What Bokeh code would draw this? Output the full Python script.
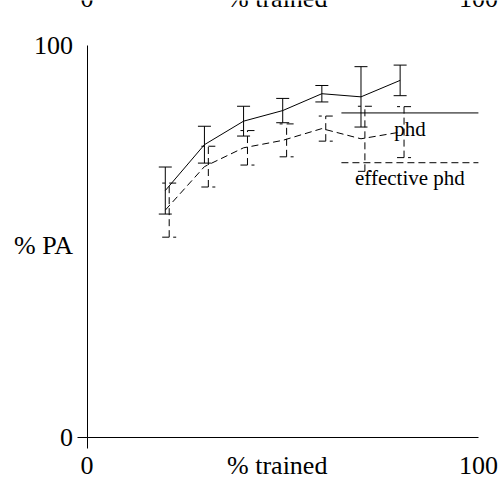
from bokeh.plotting import figure
from bokeh.models import ColumnDataSource, Whisker, TeeHead, FixedTicker, LinearAxis, Range1d
from bokeh.core.properties import value
from bokeh.embed import file_html
from bokeh.resources import INLINE

# Percentage of training data used vs. % PA, with standard-error bars
trained = [20, 30, 40, 50, 60, 70, 80]
phd = [63.0, 74.7, 80.7, 83.4, 87.7, 86.9, 91.1]
phd_err = [6.0, 4.7, 3.8, 3.1, 2.1, 7.7, 3.9]
eff_phd = [58.0, 69.1, 73.9, 75.8, 78.8, 76.2, 77.9]
eff_phd_err = [6.9, 5.2, 4.4, 4.2, 3.2, 8.3, 6.5]

x_ticks = [0, 48.6, 100]
x_tick_labels = ["0", "% trained", "100"]
y_ticks = [0, 49, 100]
y_tick_labels = ["0", "% PA", "100"]

series_names = ["phd", "effective phd"]

FONT = "Liberation Serif"
DASH = "7 4"

# the frame fills the page; the axes are pinned at the origin and bounded to 0..100
p = figure(width=501, height=478, output_backend="svg", toolbar_location=None,
           x_range=Range1d(-22.1, 105.9), y_range=Range1d(-10.46, 111.48),
           min_border=0)
p.outline_line_color = None
p.xgrid.visible = False
p.ygrid.visible = False
p.background_fill_color = "white"
p.border_fill_color = "white"


def style_axis(ax, ticks, labels, tick_len, standoff, line=True):
    ax.ticker = FixedTicker(ticks=ticks, minor_ticks=[0] if tick_len else [])
    ax.major_label_overrides = {t: lab for t, lab in zip(ticks, labels)}
    ax.bounds = (0, 100)
    ax.major_tick_out = 0
    ax.major_tick_in = 0
    ax.minor_tick_out = tick_len
    ax.minor_tick_in = 0
    ax.minor_tick_line_color = "black" if tick_len else None
    ax.axis_line_color = "black" if line else None
    ax.axis_line_width = 1
    ax.major_label_standoff = standoff
    ax.major_label_text_font = FONT
    ax.major_label_text_font_size = "26px"
    ax.major_label_text_color = "black"


p.xaxis[0].fixed_location = 0
p.yaxis[0].fixed_location = 0
style_axis(p.xaxis[0], x_ticks, x_tick_labels, 11, 3)
style_axis(p.yaxis[0], y_ticks, y_tick_labels, 10, 4)

# x labels of the panel stacked above, cut by the page edge
upper_x = LinearAxis(fixed_location=119.4)
style_axis(upper_x, x_ticks, x_tick_labels, 0, 15, line=False)
p.add_layout(upper_x, "below")

# series
src = ColumnDataSource(dict(
    x=trained, phd=phd, eff=eff_phd,
    phd_lo=[v - e for v, e in zip(phd, phd_err)],
    phd_hi=[v + e for v, e in zip(phd, phd_err)],
    eff_x=[t + 1 for t in trained],
    eff_lo=[v - e for v, e in zip(eff_phd, eff_phd_err)],
    eff_hi=[v + e for v, e in zip(eff_phd, eff_phd_err)],
))

p.line("x", "phd", source=src, line_color="black", line_width=1)
p.line("x", "eff", source=src, line_color="black", line_width=1, line_dash=DASH)

p.add_layout(Whisker(source=src, base="x", lower="phd_lo", upper="phd_hi",
                     line_color="black", line_width=1,
                     lower_head=TeeHead(size=13, line_color="black", line_width=1),
                     upper_head=TeeHead(size=13, line_color="black", line_width=1)))
p.add_layout(Whisker(source=src, base="eff_x", lower="eff_lo", upper="eff_hi",
                     line_color="black", line_width=1, line_dash=DASH,
                     lower_head=TeeHead(size=14, line_color="black", line_width=1, line_dash=DASH),
                     upper_head=TeeHead(size=14, line_color="black", line_width=1, line_dash=DASH)))

# key: a sample line with its name centred beneath it
key_x0, key_x1 = 65, 100
key_rows = [(82.8, 78.8, None), (70.1, 66.1, DASH)]
for name, (line_y, text_y, dash) in zip(series_names, key_rows):
    kw = dict(line_dash=dash) if dash else {}
    p.line([key_x0, key_x1], [line_y, line_y], line_color="black", line_width=1, **kw)
    p.text(x=[(key_x0 + key_x1) / 2], y=[text_y], text=[name], text_align="center",
           text_baseline="alphabetic", text_font=value(FONT), text_font_size="21px",
           text_color="black")

open("out.html", "w").write(file_html(p, INLINE))
